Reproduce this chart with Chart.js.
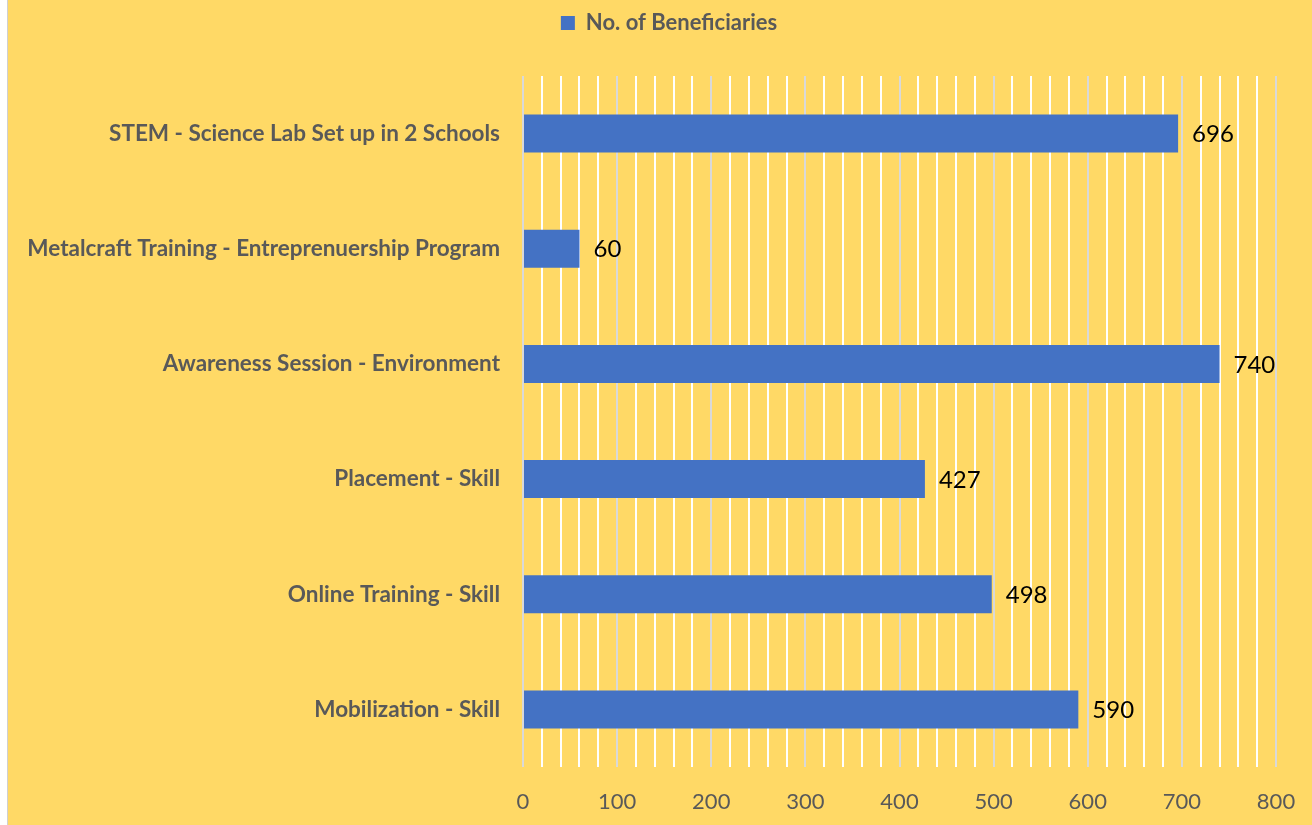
<!DOCTYPE html>
<html>
<head>
<meta charset="utf-8">
<script src="https://cdn.jsdelivr.net/npm/chart.js@4"></script>
<style>
  html, body { margin: 0; padding: 0; background: #ffffff; }
  #wrap {
    position: absolute; left: 7px; top: 0;
    width: 1304px; height: 825px;
    border-left: 1px solid #d0d0d0;
    background: #FFD966;
  }
  canvas { display: block; }
</style>
</head>
<body>
<div id="wrap"><canvas id="chart" width="1304" height="825"></canvas></div>
<script>
// Chart data
const categories = [
    'STEM - Science Lab Set up in 2 Schools',
    'Metalcraft Training - Entreprenuership Program',
    'Awareness Session - Environment',
    'Placement - Skill',
    'Online Training - Skill',
    'Mobilization - Skill'
];
const beneficiaries = [696, 60, 740, 427, 498, 590];
const seriesName = 'No. of Beneficiaries';
const xTicks = [0, 100, 200, 300, 400, 500, 600, 700, 800];

const GREY_TEXT = '#595959';
const FONT = 'Lato, "Open Sans", sans-serif';

// value labels to the right of each bar
const valueLabels = {
    id: 'valueLabels',
    afterDatasetsDraw(chart) {
        const ctx = chart.ctx;
        const meta = chart.getDatasetMeta(0);
        ctx.save();
        ctx.font = '24px ' + FONT;
        ctx.fillStyle = '#000000';
        ctx.textAlign = 'left';
        ctx.textBaseline = 'middle';
        meta.data.forEach((bar, i) => {
            ctx.fillText(String(beneficiaries[i]), bar.x + 14, bar.y + 1);
        });
        ctx.restore();
    }
};

// extra room under the legend, and nudge it a bit right
const legendSpace = {
    id: 'legendSpace',
    beforeInit(chart) {
        const fit = chart.legend.fit;
        chart.legend.fit = function () {
            fit.bind(chart.legend)();
            this.height += 32;
        };
    },
    afterLayout(chart) {
        chart.legend.left += 27;
        chart.legend.right += 27;
    }
};

new Chart(document.getElementById('chart'), {
    type: 'bar',
    data: {
        labels: categories,
        datasets: [{
            label: seriesName,
            data: beneficiaries,
            backgroundColor: '#4472C4',
            borderWidth: 0,
            barPercentage: 0.33,
            categoryPercentage: 1
        }]
    },
    options: {
        indexAxis: 'y',
        responsive: false,
        animation: false,
        layout: { padding: { top: 2, right: 36, bottom: 0, left: 0 } },
        plugins: {
            legend: {
                position: 'top',
                labels: {
                    color: GREY_TEXT,
                    font: { family: FONT, size: 22, weight: 'bold' },
                    boxWidth: 14,
                    boxHeight: 14,
                    padding: 10
                }
            },
            tooltip: { enabled: false }
        },
        scales: {
            x: {
                min: xTicks[0],
                max: xTicks[xTicks.length - 1],
                border: { display: false },
                grid: {
                    drawTicks: false,
                    lineWidth: 2,
                    color: (c) => (c.tick && c.tick.value % 100 === 0) ? '#D9D9D9' : '#FFFFFF'
                },
                ticks: {
                    stepSize: 20,
                    autoSkip: false,
                    maxRotation: 0,
                    padding: 22,
                    color: GREY_TEXT,
                    font: { family: FONT, size: 22 },
                    callback: (v) => xTicks.includes(v) ? String(v) : ''
                },
                afterFit(scale) {
                    scale.height = 58;
                    scale.paddingLeft = 0;
                    scale.paddingRight = 0;
                }
            },
            y: {
                border: { display: false },
                grid: { display: false, drawTicks: false },
                ticks: {
                    padding: 23,
                    color: GREY_TEXT,
                    font: { family: FONT, size: 22.5, weight: 'bold' }
                },
                afterFit(scale) { scale.width = 515; }
            }
        }
    },
    plugins: [valueLabels, legendSpace]
});
</script>
</body>
</html>
